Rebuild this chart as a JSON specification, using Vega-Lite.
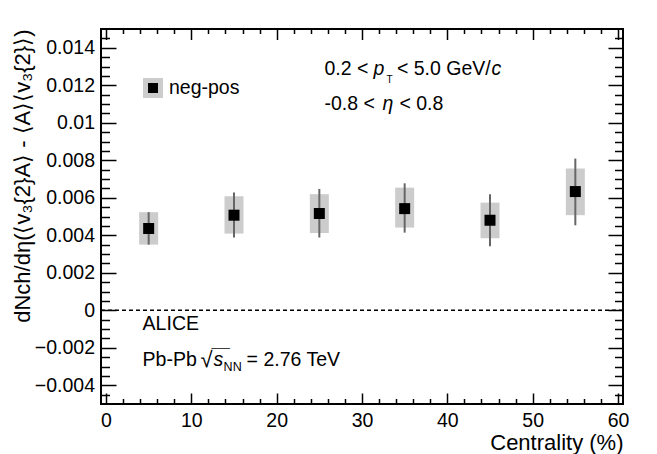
{
  "$schema": "https://vega.github.io/schema/vega-lite/v6.json",
  "width": 522,
  "height": 375,
  "autosize": {"type": "none"},
  "padding": {"left": 101, "top": 29, "right": 34, "bottom": 50},
  "background": "white",
  "config": {
    "font": "Liberation Sans",
    "view": {"stroke": "black", "strokeWidth": 2},
    "axis": {"domain": false, "grid": false, "tickColor": "black", "tickWidth": 1.5, "labelFont": "Liberation Sans", "labelFontSize": 19.5, "labelColor": "black", "titleFont": "Liberation Sans", "titleFontWeight": "normal", "titleColor": "black"},
    "text": {"font": "Liberation Sans", "color": "black", "align": "left", "baseline": "alphabetic", "fontSize": 19.5}
  },
  "datasets": {
    "pts": [
      {"cent": 5, "val": 0.00436, "statLo": 0.0035, "statHi": 0.00523, "sysLo": 0.0035, "sysHi": 0.00523},
      {"cent": 15, "val": 0.00507, "statLo": 0.00388, "statHi": 0.00628, "sysLo": 0.00409, "sysHi": 0.00608},
      {"cent": 25, "val": 0.00516, "statLo": 0.00388, "statHi": 0.00647, "sysLo": 0.00412, "sysHi": 0.00619},
      {"cent": 35, "val": 0.00542, "statLo": 0.00414, "statHi": 0.00677, "sysLo": 0.00441, "sysHi": 0.00654},
      {"cent": 45, "val": 0.0048, "statLo": 0.00341, "statHi": 0.00619, "sysLo": 0.00384, "sysHi": 0.00574},
      {"cent": 55, "val": 0.00633, "statLo": 0.00453, "statHi": 0.00809, "sysLo": 0.00507, "sysHi": 0.00756}
    ],
    "notes": [
      {"id": "pt_a", "cent": 25.6, "val": 0.01253, "label": "0.2 <"},
      {"id": "pt_b", "cent": 25.6, "val": 0.01253, "label": "p"},
      {"id": "pt_c", "cent": 25.6, "val": 0.01253, "label": "T"},
      {"id": "pt_d", "cent": 25.6, "val": 0.01253, "label": "< 5.0 GeV/"},
      {"id": "pt_f", "cent": 25.6, "val": 0.01253, "label": "c"},
      {"id": "eta_a", "cent": 25.6, "val": 0.01067, "label": "-0.8 <"},
      {"id": "eta_b", "cent": 25.6, "val": 0.01067, "label": "η"},
      {"id": "eta_c", "cent": 25.6, "val": 0.01067, "label": "< 0.8"},
      {"id": "alice", "cent": 4.29, "val": -0.00103, "label": "ALICE"},
      {"id": "pb_a", "cent": 4.29, "val": -0.00299, "label": "Pb-Pb"},
      {"id": "pb_b", "cent": 4.29, "val": -0.00299, "label": "√"},
      {"id": "pb_o", "cent": 4.29, "val": -0.00299, "label": "___"},
      {"id": "pb_c", "cent": 4.29, "val": -0.00299, "label": "s"},
      {"id": "pb_d", "cent": 4.29, "val": -0.00299, "label": "NN"},
      {"id": "pb_e", "cent": 4.29, "val": -0.00299, "label": "= 2.76 TeV"}
    ],
    "zero": [{"val": 0}]
  },
  "resolve": {"axis": {"x": "independent", "y": "independent"}},
  "layer": [
    {
      "data": {"name": "pts"},
      "mark": {"type": "bar", "color": "#cccccc", "size": 19},
      "encoding": {
        "x": {"field": "cent", "type": "quantitative", "scale": {"domain": [0, 60], "nice": false, "zero": false},
          "axis": {"orient": "bottom", "values": [0, 10, 20, 30, 40, 50, 60], "ticks": false, "labelPadding": 7.5, "title": "Centrality (%)", "titleX": 522, "titleY": 45, "titleAlign": "right", "titleBaseline": "alphabetic", "titleFontSize": 22}},
        "y": {"field": "sysLo", "type": "quantitative", "scale": {"domain": [-0.005, 0.015], "nice": false, "zero": false},
          "axis": {"orient": "left", "values": [-0.004, -0.002, 0, 0.002, 0.004, 0.006, 0.008, 0.01, 0.012, 0.014], "ticks": false, "labelPadding": 6.5, "labelExpr": "format(datum.value, '~g')",
            "title": "dNch/dη(⟨v₃{2}A⟩ - ⟨A⟩⟨v₃{2}⟩)", "titleX": -79, "titleY": 0, "titleAngle": 270, "titleAlign": "right", "titleBaseline": "middle", "titleFontSize": 22}},
        "y2": {"field": "sysHi"}
      }
    },
    {
      "data": {"name": "pts"},
      "mark": {"type": "rule", "color": "#666666", "strokeWidth": 2},
      "encoding": {
        "x": {"field": "cent", "type": "quantitative", "scale": {"domain": [0, 60], "nice": false, "zero": false},
          "axis": {"orient": "top", "offset": -375, "values": [0, 10, 20, 30, 40, 50, 60], "tickSize": 11, "labels": false, "title": null}},
        "y": {"field": "statLo", "type": "quantitative", "scale": {"domain": [-0.005, 0.015], "nice": false, "zero": false},
          "axis": {"orient": "right", "offset": -522, "values": [-0.004, -0.002, 0, 0.002, 0.004, 0.006, 0.008, 0.01, 0.012, 0.014], "tickSize": 15, "labels": false, "title": null}},
        "y2": {"field": "statHi"}
      }
    },
    {
      "data": {"name": "zero"},
      "mark": {"type": "rule", "color": "black", "strokeWidth": 1.5, "strokeDash": [4, 3]},
      "encoding": {
        "y": {"field": "val", "type": "quantitative", "axis": null}
      }
    },
    {
      "data": {"name": "pts"},
      "mark": {"type": "point", "shape": "square", "filled": true, "size": 121, "opacity": 1},
      "encoding": {
        "x": {"field": "cent", "type": "quantitative", "scale": {"domain": [0, 60], "nice": false, "zero": false},
          "axis": {"orient": "top", "offset": -375, "values": [2, 4, 6, 8, 12, 14, 16, 18, 22, 24, 26, 28, 32, 34, 36, 38, 42, 44, 46, 48, 52, 54, 56, 58], "tickSize": 5.5, "labels": false, "title": null}},
        "y": {"field": "val", "type": "quantitative", "scale": {"domain": [-0.005, 0.015], "nice": false, "zero": false},
          "axis": {"orient": "right", "offset": -522, "values": [-0.0045, -0.0035, -0.003, -0.0025, -0.0015, -0.001, -0.0005, 0.0005, 0.001, 0.0015, 0.0025, 0.003, 0.0035, 0.0045, 0.005, 0.0055, 0.0065, 0.007, 0.0075, 0.0085, 0.009, 0.0095, 0.0105, 0.011, 0.0115, 0.0125, 0.013, 0.0135, 0.0145], "tickSize": 8.5, "labels": false, "title": null}},
        "color": {"datum": "neg-pos", "scale": {"range": ["black"]},
          "legend": {"orient": "none", "legendX": 42, "legendY": 49, "title": null, "padding": 0, "symbolType": "square", "symbolSize": 225, "symbolStrokeColor": "#cccccc", "symbolStrokeWidth": 5, "symbolFillColor": "black", "labelFont": "Liberation Sans", "labelFontSize": 19.5, "labelColor": "black", "labelOffset": 6,
            "encode": {"symbols": {"update": {"stroke": {"value": "#cccccc"}, "strokeWidth": {"value": 5}, "fill": {"value": "black"}, "opacity": {"value": 1}}}}}}
      }
    },
    {
      "data": {"name": "notes"},
      "transform": [{"filter": {"field": "id", "oneOf": ["alice", "pb_a"]}}],
      "mark": {"type": "text", "fontSize": 19.5, "color": "black"},
      "encoding": {
        "x": {"field": "cent", "type": "quantitative", "scale": {"domain": [0, 60], "nice": false, "zero": false},
          "axis": {"orient": "bottom", "offset": -375, "values": [0, 10, 20, 30, 40, 50, 60], "tickSize": 10.5, "labels": false, "title": null}},
        "y": {"field": "val", "type": "quantitative", "scale": {"domain": [-0.005, 0.015], "nice": false, "zero": false},
          "axis": {"orient": "left", "offset": -522, "values": [-0.004, -0.002, 0, 0.002, 0.004, 0.006, 0.008, 0.01, 0.012, 0.014], "tickSize": 15, "labels": false, "title": null}},
        "text": {"field": "label"}
      }
    },
    {
      "data": {"name": "notes"},
      "transform": [{"filter": {"field": "id", "oneOf": ["pt_a", "eta_a"]}}],
      "mark": {"type": "text", "fontSize": 19.5, "color": "black"},
      "encoding": {
        "x": {"field": "cent", "type": "quantitative", "scale": {"domain": [0, 60], "nice": false, "zero": false},
          "axis": {"orient": "bottom", "offset": -375, "values": [2, 4, 6, 8, 12, 14, 16, 18, 22, 24, 26, 28, 32, 34, 36, 38, 42, 44, 46, 48, 52, 54, 56, 58], "tickSize": 4.5, "labels": false, "title": null}},
        "y": {"field": "val", "type": "quantitative", "scale": {"domain": [-0.005, 0.015], "nice": false, "zero": false},
          "axis": {"orient": "left", "offset": -522, "values": [-0.0045, -0.0035, -0.003, -0.0025, -0.0015, -0.001, -0.0005, 0.0005, 0.001, 0.0015, 0.0025, 0.003, 0.0035, 0.0045, 0.005, 0.0055, 0.0065, 0.007, 0.0075, 0.0085, 0.009, 0.0095, 0.0105, 0.011, 0.0115, 0.0125, 0.013, 0.0135, 0.0145], "tickSize": 8.5, "labels": false, "title": null}},
        "text": {"field": "label"}
      }
    },
    {
      "data": {"name": "notes"},
      "transform": [{"filter": {"field": "id", "equal": "pt_b"}}],
      "mark": {"type": "text", "fontStyle": "italic", "dx": 49, "color": "black"},
      "encoding": {"x": {"field": "cent", "type": "quantitative", "axis": null}, "y": {"field": "val", "type": "quantitative", "axis": null}, "text": {"field": "label"}}
    },
    {
      "data": {"name": "notes"},
      "transform": [{"filter": {"field": "id", "equal": "pt_c"}}],
      "mark": {"type": "text", "fontSize": 10, "dx": 62, "dy": 8, "color": "black"},
      "encoding": {"x": {"field": "cent", "type": "quantitative", "axis": null}, "y": {"field": "val", "type": "quantitative", "axis": null}, "text": {"field": "label"}}
    },
    {
      "data": {"name": "notes"},
      "transform": [{"filter": {"field": "id", "equal": "pt_d"}}],
      "mark": {"type": "text", "dx": 72.5, "color": "black"},
      "encoding": {"x": {"field": "cent", "type": "quantitative", "axis": null}, "y": {"field": "val", "type": "quantitative", "axis": null}, "text": {"field": "label"}}
    },
    {
      "data": {"name": "notes"},
      "transform": [{"filter": {"field": "id", "equal": "pt_f"}}],
      "mark": {"type": "text", "fontStyle": "italic", "dx": 167, "color": "black"},
      "encoding": {"x": {"field": "cent", "type": "quantitative", "axis": null}, "y": {"field": "val", "type": "quantitative", "axis": null}, "text": {"field": "label"}}
    },
    {
      "data": {"name": "notes"},
      "transform": [{"filter": {"field": "id", "equal": "eta_b"}}],
      "mark": {"type": "text", "fontStyle": "italic", "dx": 58, "color": "black"},
      "encoding": {"x": {"field": "cent", "type": "quantitative", "axis": null}, "y": {"field": "val", "type": "quantitative", "axis": null}, "text": {"field": "label"}}
    },
    {
      "data": {"name": "notes"},
      "transform": [{"filter": {"field": "id", "equal": "eta_c"}}],
      "mark": {"type": "text", "dx": 75, "color": "black"},
      "encoding": {"x": {"field": "cent", "type": "quantitative", "axis": null}, "y": {"field": "val", "type": "quantitative", "axis": null}, "text": {"field": "label"}}
    },
    {
      "data": {"name": "notes"},
      "transform": [{"filter": {"field": "id", "equal": "pb_b"}}],
      "mark": {"type": "text", "fontSize": 22, "dx": 58, "dy": 1, "color": "black"},
      "encoding": {"x": {"field": "cent", "type": "quantitative", "axis": null}, "y": {"field": "val", "type": "quantitative", "axis": null}, "text": {"field": "label"}}
    },
    {
      "data": {"name": "notes"},
      "transform": [{"filter": {"field": "id", "equal": "pb_o"}}],
      "mark": {"type": "text", "fontSize": 11, "dx": 69, "dy": -19, "color": "black"},
      "encoding": {"x": {"field": "cent", "type": "quantitative", "axis": null}, "y": {"field": "val", "type": "quantitative", "axis": null}, "text": {"field": "label"}}
    },
    {
      "data": {"name": "notes"},
      "transform": [{"filter": {"field": "id", "equal": "pb_c"}}],
      "mark": {"type": "text", "fontStyle": "italic", "dx": 71, "color": "black"},
      "encoding": {"x": {"field": "cent", "type": "quantitative", "axis": null}, "y": {"field": "val", "type": "quantitative", "axis": null}, "text": {"field": "label"}}
    },
    {
      "data": {"name": "notes"},
      "transform": [{"filter": {"field": "id", "equal": "pb_d"}}],
      "mark": {"type": "text", "fontSize": 12.5, "dx": 81, "dy": 5, "color": "black"},
      "encoding": {"x": {"field": "cent", "type": "quantitative", "axis": null}, "y": {"field": "val", "type": "quantitative", "axis": null}, "text": {"field": "label"}}
    },
    {
      "data": {"name": "notes"},
      "transform": [{"filter": {"field": "id", "equal": "pb_e"}}],
      "mark": {"type": "text", "dx": 104, "color": "black"},
      "encoding": {"x": {"field": "cent", "type": "quantitative", "axis": null}, "y": {"field": "val", "type": "quantitative", "axis": null}, "text": {"field": "label"}}
    }
  ]
}
